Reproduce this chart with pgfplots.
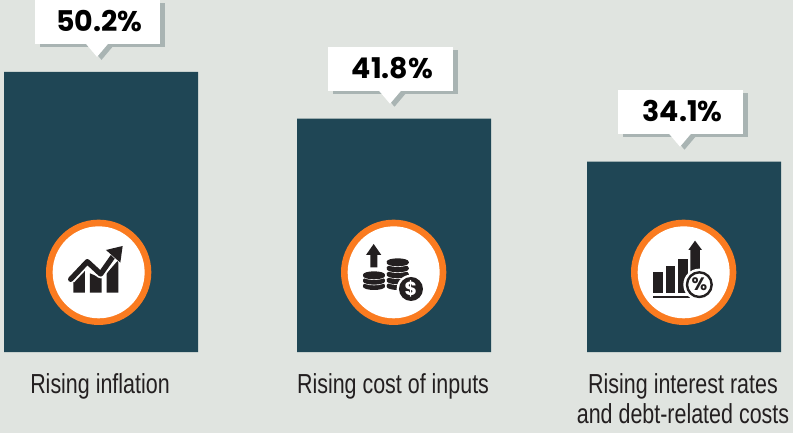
\documentclass[border=0pt]{standalone}
\usepackage{pgfplots}
\pgfplotsset{compat=1.18}
\usepackage{fontspec}
\setmainfont{Liberation Sans}[FakeStretch=0.78]
\newfontfamily\valfont{Poppins}
\definecolor{bg}{HTML}{E0E4E0}
\definecolor{barc}{HTML}{1F4655}
\definecolor{org}{HTML}{FA7B20}
\definecolor{shad}{HTML}{A9B4B3}
\definecolor{ink}{HTML}{231F20}
\newcommand{\callout}[2]{%
  \begin{scope}[shift={(axis cs:#1,#2)},x=1bp,y=-1bp]
    \fill[shad] (-61,-69) rectangle (64,-24.5);
    \fill[shad] (-10.5,-25) -- (0.5,-12) -- (11.5,-25) -- cycle;
    \fill[white] (-66,-72) rectangle (59,-27.5);
    \fill[white] (-15,-28) -- (-4,-15) -- (7,-28) -- cycle;
  \end{scope}}
\newcommand{\badge}[2]{%
  \begin{scope}[shift={(#1bp,#2bp)},x=0.3333bp,y=-0.3333bp]
    \fill[org] (206,187) circle[radius=158];
    \fill[white] (206,187) circle[radius=138];
  \end{scope}}
\begin{document}
\begin{tikzpicture}
\path[use as bounding box,fill=bg] (0,0) rectangle (793bp,433bp);
\begin{axis}[
  at={(0,81bp)},anchor=south west,scale only axis,
  width=793bp,height=352bp,
  xmin=0,xmax=793,ymin=0,ymax=63.08,
  clip=false,
  axis line style={draw=none},
  tick style={draw=none},
  ytick=\empty,
  xtick={101,394,684},
  xticklabels={Rising inflation,Rising cost of inputs,{Rising interest rates\\and debt-related costs}},
  xticklabel style={font=\fontsize{27.5bp}{30bp}\selectfont,align=center,text=ink,anchor=north,yshift=-14bp,xshift=-1bp},
  ybar,bar width=194bp,bar shift=0pt,
  nodes near coords={\pgfmathprintnumber[fixed,fixed zerofill,precision=1,assume math mode=true]{\pgfplotspointmeta}\%},
  every node near coord/.append style={anchor=base,yshift=40bp,xshift=-1.5bp,text=black,
    font=\valfont\bfseries\fontsize{28.5bp}{30bp}\selectfont},
]
\callout{101}{50.2}
\callout{394}{41.8}
\callout{684}{34.1}
\addplot[draw=none,fill=barc] coordinates {(101,50.2) (394,41.8) (684,34.1)};
\end{axis}
% --- icon 1
\badge{30}{223}
\begin{scope}[shift={(30bp,223bp)},x=0.3333bp,y=-0.3333bp]
  \fill[ink] (130,248) -- (130,215) -- (165,180) -- (165,248) -- cycle;
  \fill[ink] (180,248) -- (180,190) -- (215,205) -- (215,248) -- cycle;
  \fill[ink] (230,248) -- (230,190) -- (265,150) -- (265,248) -- cycle;
  \draw[white,line width=9bp,line join=round] (122,208) -- (172,155) -- (212,192) -- (255,132);
  \draw[ink,line width=5.3bp,line cap=round,line join=round] (122,208) -- (172,155) -- (212,192) -- (250,138);
  \fill[white] (222,115) -- (282,102) -- (276,166) -- cycle;
  \fill[ink] (228,120) -- (278,108) -- (271,158) -- cycle;
\end{scope}
% --- icon 2
\badge{325}{223}
\begin{scope}[shift={(325bp,223bp)},x=0.3333bp,y=-0.3333bp]
  \fill[ink] (146,102) -- (169,135) -- (157,135) -- (157,172) -- (136,172) -- (136,135) -- (123,135) -- cycle;
  \foreach \cx/\ys in {147/{226,210,194},218/{226,209,191,173,155}}{
    \foreach \y in \ys {
      \fill[white] (\cx,\y+4) ellipse[x radius=35,y radius=12];
      \fill[ink] (\cx,\y) ellipse[x radius=33,y radius=10];
      \fill[ink] (\cx-33,\y) rectangle (\cx+33,\y+4);
      \fill[ink] (\cx,\y+4) ellipse[x radius=33,y radius=10];
    }
  }
  \fill[white] (258,237) circle[radius=43];
  \fill[ink] (258,237) circle[radius=36];
  \node[text=white,font=\valfont\bfseries\fontsize{19bp}{19bp}\selectfont,inner sep=0pt] at (258,237) {\$};
\end{scope}
% --- icon 3
\badge{615}{223}
\begin{scope}[shift={(615bp,223bp)},x=0.3333bp,y=-0.3333bp]
  \fill[ink] (115,187) rectangle (144,248);
  \fill[ink] (152,167) rectangle (181,248);
  \fill[ink] (189,146) rectangle (218,248);
  \fill[ink] (226,248) -- (226,120) -- (220,120) -- (240,92) -- (261,120) -- (255,120) -- (255,248) -- cycle;
  \fill[ink] (114,258) rectangle (225,263);
  \fill[white] (253,224) circle[radius=48];
  \draw[ink,line width=2.4bp] (253,224) circle[radius=37];
  \node[text=ink,font=\valfont\bfseries\fontsize{18bp}{18bp}\selectfont,inner sep=0pt] at (253,224) {\%};
\end{scope}
\end{tikzpicture}
\end{document}
